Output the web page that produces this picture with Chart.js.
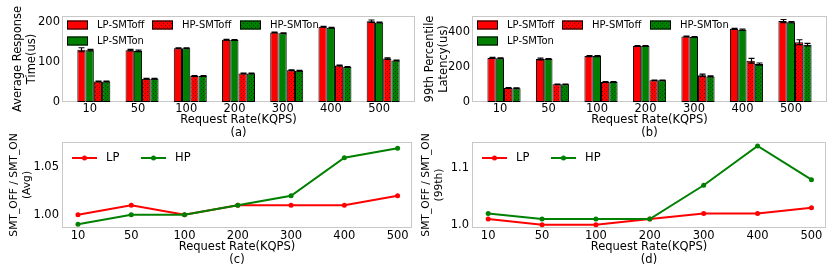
<!DOCTYPE html>
<html>
<head>
<meta charset="utf-8">
<script src="https://cdn.jsdelivr.net/npm/chart.js@4.4.1/dist/chart.umd.min.js"></script>
<style>
  html, body { margin: 0; padding: 0; background: #fff; }
  #wrap { position: relative; width: 830px; height: 277px; overflow: hidden; }
  canvas { position: absolute; }
</style>
</head>
<body>
<div id="wrap">
  <canvas id="chartA" width="416" height="140" style="left:0;top:0"></canvas>
  <canvas id="chartB" width="415" height="140" style="left:415px;top:0"></canvas>
  <canvas id="chartC" width="416" height="159" style="left:0;top:118px"></canvas>
  <canvas id="chartD" width="415" height="159" style="left:415px;top:118px"></canvas>
</div>
<script>
const rates = ["10", "50", "100", "200", "300", "400", "500"];

// (a) average response time (us)
const avgLpOff = [130, 129, 134, 155, 173, 187, 201];
const avgLpOn = [129, 127, 134, 154, 171, 185, 198];
const avgHpOff = [51, 58, 65, 71, 79, 91, 108];
const avgHpOn = [51, 58, 65, 71, 78, 87, 103];
const avgLpOffErr = [5, 2, 1, 1, 1, 1, 3];
const avgLpOnErr = [2, 2, 1, 1, 1, 1, 1];
const avgHpOffErr = [1, 1, 1, 1, 1, 1, 2];
const avgHpOnErr = [1, 1, 1, 1, 1, 1, 1];
const avgTicks = [0, 100, 200];

// (b) 99th percentile latency (us)
const p99LpOff = [252, 246, 263, 321, 375, 419, 463];
const p99LpOn = [250, 246, 263, 320, 372, 413, 456];
const p99HpOff = [80, 101, 115, 124, 153, 236, 342];
const p99HpOn = [79, 101, 115, 124, 146, 217, 328];
const p99LpOffErr = [3, 5, 3, 2, 2, 3, 9];
const p99LpOnErr = [2, 3, 3, 2, 2, 4, 4];
const p99HpOffErr = [2, 2, 2, 2, 6, 14, 14];
const p99HpOnErr = [2, 2, 2, 2, 3, 6, 7];
const p99Ticks = [0, 200, 400];

// (c) / (d) SMT_OFF / SMT_ON ratios
const ratioAvgLp = [1.00, 1.01, 1.00, 1.01, 1.01, 1.01, 1.02];
const ratioAvgHp = [0.99, 1.00, 1.00, 1.01, 1.02, 1.06, 1.07];
const ratio99Lp = [1.01, 1.00, 1.00, 1.01, 1.02, 1.02, 1.03];
const ratio99Hp = [1.02, 1.01, 1.01, 1.01, 1.07, 1.14, 1.08];
const ratioAvgTicks = [1.00, 1.05];
const ratio99Ticks = [1.0, 1.1];

const RED = "#ff0000";
const GREEN = "#008000";
const FONT = '"DejaVu Sans", sans-serif';

Chart.defaults.font.family = FONT;
Chart.defaults.font.size = 11.5;
Chart.defaults.color = "#000";

// dotted hatch like matplotlib '..'
const dots = (color) => {
  const c = document.createElement("canvas");
  c.width = 4;
  c.height = 4;
  const g = c.getContext("2d");
  g.fillStyle = color;
  g.fillRect(0, 0, 4, 4);
  g.fillStyle = "rgba(0,0,0,0.5)";
  g.fillRect(1, 1, 1, 1);
  g.fillRect(3, 3, 1, 1);
  return g.createPattern(c, "repeat");
};
const redDots = dots(RED);
const greenDots = dots(GREEN);

const framePlugin = {
  id: "frame",
  beforeDatasetsDraw(chart) {
    const { ctx, chartArea: a } = chart;
    ctx.save();
    ctx.strokeStyle = "#c8c8c8";
    ctx.lineWidth = 1;
    ctx.strokeRect(Math.round(a.left) + 0.5, Math.round(a.top) + 0.5,
      Math.round(a.right - a.left) - 1, Math.round(a.bottom - a.top) - 1);
    ctx.restore();
  },
};

const errorBarPlugin = {
  id: "errorBars",
  afterDatasetsDraw(chart) {
    const { ctx } = chart;
    const yScale = chart.scales.y;
    chart.data.datasets.forEach((ds, i) => {
      if (!ds.errors) return;
      chart.getDatasetMeta(i).data.forEach((bar, j) => {
        const v = ds.data[j].y;
        const e = ds.errors[j];
        const top = yScale.getPixelForValue(v + e);
        const bot = yScale.getPixelForValue(v - e);
        const x = Math.round(bar.x) + 0.5;
        ctx.save();
        ctx.strokeStyle = "#000";
        ctx.lineWidth = 1.2;
        ctx.beginPath();
        ctx.moveTo(x, top);
        ctx.lineTo(x, bot);
        ctx.moveTo(x - 3, top);
        ctx.lineTo(x + 3, top);
        ctx.moveTo(x - 3, bot);
        ctx.lineTo(x + 3, bot);
        ctx.stroke();
        ctx.restore();
      });
    });
  },
};

// legend with boxes, matplotlib ncol=3 layout
const boxLegend = (items) => ({
  id: "boxLegend",
  afterDraw(chart) {
    const { ctx, chartArea: a } = chart;
    ctx.save();
    ctx.font = "10px " + FONT;
    ctx.textBaseline = "middle";
    items.forEach((it) => {
      const x = a.left + it.dx;
      const y = a.top + it.dy;
      ctx.fillStyle = it.fill;
      ctx.fillRect(x, y - 4.5, 21, 9);
      ctx.strokeStyle = "#000";
      ctx.lineWidth = 1;
      ctx.strokeRect(x + 0.5, y - 4, 20, 8);
      ctx.fillStyle = "#000";
      ctx.fillText(it.label, x + 30, y + 0.5);
    });
    ctx.restore();
  },
});

const lineLegend = (items) => ({
  id: "lineLegend",
  afterDraw(chart) {
    const { ctx, chartArea: a } = chart;
    ctx.save();
    ctx.font = "11.5px " + FONT;
    ctx.textBaseline = "middle";
    items.forEach((it) => {
      const x = a.left + it.dx;
      const y = a.top + 16;
      ctx.strokeStyle = it.color;
      ctx.lineWidth = 2;
      ctx.beginPath();
      ctx.moveTo(x, y);
      ctx.lineTo(x + 25, y);
      ctx.stroke();
      ctx.fillStyle = it.color;
      ctx.beginPath();
      ctx.arc(x + 12.5, y, 2.5, 0, Math.PI * 2);
      ctx.fill();
      ctx.fillStyle = "#000";
      ctx.fillText(it.label, x + 34, y + 0.5);
    });
    ctx.restore();
  },
});

const barSet = (label, values, errors, fill) => ({
  label,
  data: values.map((v, i) => ({ x: i, y: v })),
  errors,
  backgroundColor: fill,
  borderColor: "#000",
  borderWidth: 1,
  borderSkipped: false,
  categoryPercentage: 0.684,
  barPercentage: 1.0,
});

const lineSet = (label, values, color, order) => ({
  label,
  data: values.map((v, i) => ({ x: i, y: v })),
  borderColor: color,
  backgroundColor: color,
  pointBackgroundColor: color,
  pointBorderColor: color,
  borderWidth: 2,
  pointRadius: 2.5,
  pointBorderWidth: 0,
  tension: 0,
  order,
});

const xAxis = (min, max, tag, height, titlePad, labelOffset, tickPad) => ({
  type: "linear",
  min,
  max,
  offset: false,
  grid: { display: false, drawTicks: false },
  border: { display: false },
  afterBuildTicks: (s) => { s.ticks = rates.map((r, i) => ({ value: i })); },
  afterFit: (s) => { s.height = height; },
  ticks: {
    callback: (v) => rates[Math.round(v)],
    autoSkip: false,
    maxRotation: 0,
    padding: tickPad,
    labelOffset,
  },
  title: {
    display: true,
    text: ["Request Rate(KQPS)", tag],
    font: { size: 11.5, lineHeight: 1.15 },
    padding: { top: 0, bottom: titlePad },
  },
});

const yAxis = (min, max, tickVals, fmt, title, titleSize, width, titlePad, tickPad) => ({
  min,
  max,
  grid: { display: false, drawTicks: false },
  border: { display: false },
  afterBuildTicks: (s) => { s.ticks = tickVals.map((v) => ({ value: v })); },
  afterFit: (s) => { s.width = width; },
  ticks: { callback: fmt, padding: tickPad },
  title: {
    display: true,
    text: title,
    font: { size: titleSize, lineHeight: 1.2 },
    padding: { top: titlePad, bottom: 0 },
  },
});

const commonPlugins = { legend: { display: false }, tooltip: { enabled: false } };

const barChart = (id, sets, yMax, ticks, title, tag, yWidth, yTitlePad, padRight) =>
  new Chart(document.getElementById(id), {
    type: "bar",
    data: { datasets: sets },
    options: {
      responsive: false,
      animation: false,
      layout: { padding: { left: 0, top: 16, right: padRight, bottom: 0 } },
      plugins: commonPlugins,
      scales: {
        x: xAxis(-0.66, 6.66, tag, 38, 0, -4, 0),
        y: yAxis(0, yMax, ticks, (v) => String(v), title, 11.5, yWidth, yTitlePad, 2),
      },
    },
    plugins: [framePlugin, errorBarPlugin, boxLegend([
      { label: "LP-SMToff", fill: RED, dx: 5, dy: 9 },
      { label: "LP-SMTon", fill: GREEN, dx: 5, dy: 25 },
      { label: "HP-SMToff", fill: redDots, dx: 90, dy: 9 },
      { label: "HP-SMTon", fill: greenDots, dx: 178, dy: 9 },
    ])],
  });

const lineChart = (id, lp, hp, yMin, yMax, ticks, fmt, title, tag, yWidth, yTitlePad, padRight, xMax) =>
  new Chart(document.getElementById(id), {
    type: "line",
    data: { datasets: [lineSet("LP", lp, RED, 1), lineSet("HP", hp, GREEN, 0)] },
    options: {
      responsive: false,
      animation: false,
      layout: { padding: { left: 0, top: 24, right: padRight, bottom: 0 } },
      plugins: commonPlugins,
      scales: {
        x: xAxis(-0.3, xMax, tag, 49, 10, 0, 1),
        y: yAxis(yMin, yMax, ticks, fmt, title, 10.7, yWidth, yTitlePad, 3),
      },
    },
    plugins: [framePlugin, lineLegend([
      { label: "LP", color: RED, dx: 10 },
      { label: "HP", color: GREEN, dx: 79 },
    ])],
  });

barChart("chartA", [
  barSet("LP-SMToff", avgLpOff, avgLpOffErr, RED),
  barSet("LP-SMTon", avgLpOn, avgLpOnErr, GREEN),
  barSet("HP-SMToff", avgHpOff, avgHpOffErr, redDots),
  barSet("HP-SMTon", avgHpOn, avgHpOnErr, greenDots),
], 214, avgTicks, ["Average Response", "Time(us)"], "(a)", 62, 11.4, 1);

barChart("chartB", [
  barSet("LP-SMToff", p99LpOff, p99LpOffErr, RED),
  barSet("LP-SMTon", p99LpOn, p99LpOnErr, GREEN),
  barSet("HP-SMToff", p99HpOff, p99HpOffErr, redDots),
  barSet("HP-SMTon", p99HpOn, p99HpOnErr, greenDots),
], 492, p99Ticks, ["99th Percentile", "Latency(us)"], "(b)", 57, 8.4, 3);

lineChart("chartC", ratioAvgLp, ratioAvgHp, 0.986, 1.0765, ratioAvgTicks,
  (v) => v.toFixed(2), ["SMT_OFF / SMT_ON", "(Avg)"], "(c)", 62, 8, 1, 6.27);

lineChart("chartD", ratio99Lp, ratio99Hp, 0.994, 1.147, ratio99Ticks,
  (v) => v.toFixed(1), ["SMT_OFF / SMT_ON", "(99th)"], "(d)", 57, 5, 3, 6.27);
</script>
</body>
</html>
